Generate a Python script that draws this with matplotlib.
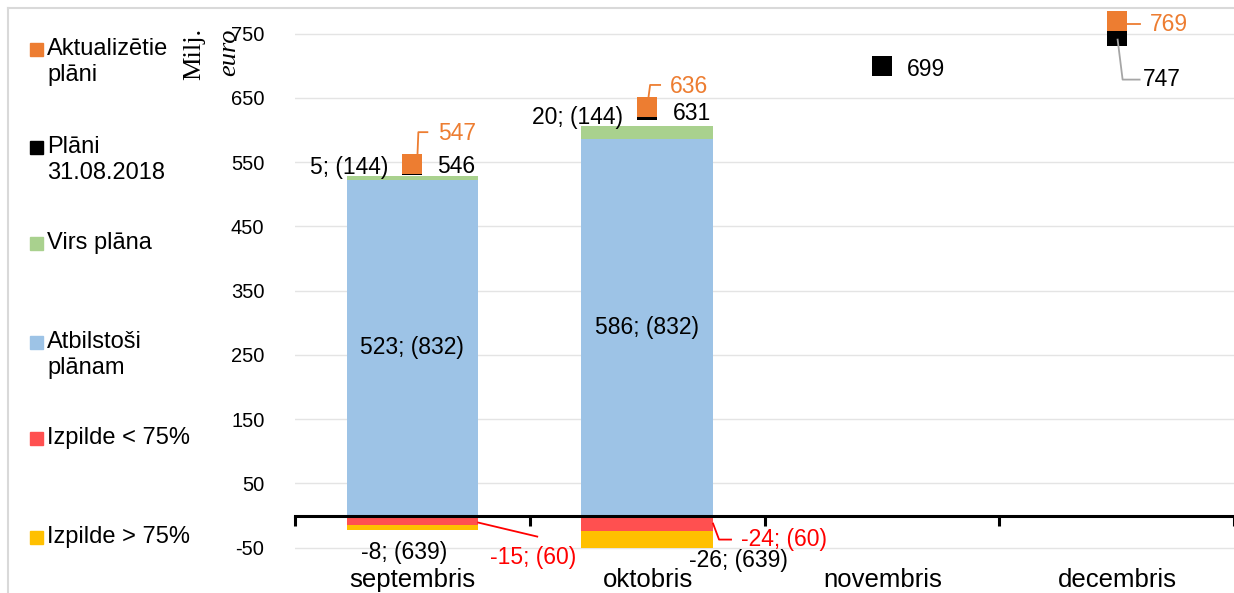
import numpy as np
import matplotlib
matplotlib.use('Agg')
import matplotlib.pyplot as plt
from matplotlib.patches import Rectangle

plt.rcParams['font.family'] = ['Liberation Sans', 'DejaVu Sans']
plt.rcParams['axes.unicode_minus'] = False

# dati
menesi = ['septembris', 'oktobris', 'novembris', 'decembris']
atbilstosi = [523, 586]
virs_plana = [5, 20]
izpilde_zem75 = [-15, -24]
izpilde_virs75 = [-8, -26]
lbl_virs = ['5; (144)', '20; (144)']
lbl_atb = ['523; (832)', '586; (832)']
lbl_zem75 = ['-15; (60)', '-24; (60)']
lbl_virs75 = ['-8; (639)', '-26; (639)']
plani_0831 = [546, 631, 699, 747]
aktualizetie = [547, 636, None, 769]

W, H = 1234, 593
fig = plt.figure(figsize=(W / 100, H / 100), dpi=100)
# axes: x 295..1234 px, y 8..567 px
ax = fig.add_axes([295 / W, (H - 567) / H, (W - 295) / W, (567 - 8) / H])
ax.set_xlim(-0.5, 3.5)
ax.set_ylim(-80, 790)

PX_X = 1 / 235.0      # data per pixel
PX_Y = 1 / 0.643

def p(x, y, dx, dy):
    # nobide pikseļos -> datu koordinātes
    return x + dx * PX_X, y + dy * PX_Y

orange = '#ED7D31'
green = '#A9D18E'
blue = '#9DC3E6'
red = '#FF5050'
yellow = '#FFC000'

x = np.arange(2)
bw = 0.56
ax.bar(x, atbilstosi, bw, color=blue, zorder=2)
ax.bar(x, virs_plana, bw, bottom=atbilstosi, color=green, zorder=2)
ax.bar(x, izpilde_zem75, bw, color=red, zorder=2)
ax.bar(x, izpilde_virs75, bw, bottom=izpilde_zem75, color=yellow, zorder=2)

# marķieri
xm = np.arange(4)
ax.scatter(xm, plani_0831, marker='s', s=200, color='black', zorder=4, linewidths=0)
xa = [i for i, v in enumerate(aktualizetie) if v is not None]
ya = [v for v in aktualizetie if v is not None]
ax.scatter(xa, ya, marker='s', s=200, color=orange, zorder=5, linewidths=0)

fs = 16.5
for i in range(2):
    top = atbilstosi[i] + virs_plana[i]
    ax.text(*p(i, top, -24, 9), lbl_virs[i], ha='right', va='center', fontsize=fs, zorder=6)
    ax.text(i, atbilstosi[i] / 2, lbl_atb[i], ha='center', va='center', fontsize=fs, zorder=6)

# plānu iezīmes
ax.text(*p(0, plani_0831[0], 25, -2), str(plani_0831[0]), ha='left', va='center', fontsize=fs)
ax.text(*p(1, plani_0831[1], 26, -3), str(plani_0831[1]), ha='left', va='center', fontsize=fs)
ax.text(*p(2, plani_0831[2], 25, -3), str(plani_0831[2]), ha='left', va='center', fontsize=fs)

ax.text(*p(0, aktualizetie[0], 26, 31), str(aktualizetie[0]), ha='left', va='center',
        fontsize=fs, color=orange)
pts = [p(0, aktualizetie[0], 5, 7), p(0, aktualizetie[0], 6, 32), p(0, aktualizetie[0], 15, 32)]
ax.plot(*zip(*pts), color=orange, lw=1.3, zorder=3)

ax.text(*p(1, aktualizetie[1], 23, 20), str(aktualizetie[1]), ha='left', va='center',
        fontsize=fs, color=orange)
pts = [p(1, aktualizetie[1], 1, 7), p(1, aktualizetie[1], 3, 22), p(1, aktualizetie[1], 13, 22)]
ax.plot(*zip(*pts), color=orange, lw=1.3, zorder=3)

ax.text(*p(3, aktualizetie[3], 33, -3), str(aktualizetie[3]), ha='left', va='center',
        fontsize=fs, color=orange)
pts = [p(3, aktualizetie[3], 10, -3), p(3, aktualizetie[3], 23, -3)]
ax.plot(*zip(*pts), color=orange, lw=1.3, zorder=3)

ax.text(*p(3, plani_0831[3], 26, -44), str(plani_0831[3]), ha='left', va='center', fontsize=fs)
pts = [p(3, plani_0831[3], 1, -4), p(3, plani_0831[3], 6, -44), p(3, plani_0831[3], 23, -44)]
ax.plot(*zip(*pts), color='#a6a6a6', lw=1.3, zorder=6)

# negatīvās vērtības
bot0 = izpilde_zem75[0] + izpilde_virs75[0]
ax.text(*p(0, bot0, -8, -22), lbl_virs75[0], ha='center', va='center', fontsize=fs)
ax.text(*p(0, izpilde_zem75[0], 78, -32), lbl_zem75[0], ha='left', va='center',
        fontsize=fs, color='red')
pts = [p(0, 0, 66, -7), p(0, 0, 125, -21)]
ax.plot(*zip(*pts), color='red', lw=1.3, zorder=3)

bot1 = izpilde_zem75[1] + izpilde_virs75[1]
ax.text(*p(1, bot1, 91, -13), lbl_virs75[1], ha='center', va='center', fontsize=fs)
ax.text(*p(1, 0, 94, -24), lbl_zem75[1], ha='left', va='center', fontsize=fs, color='red')
pts = [p(1, 0, 66, -8), p(1, 0, 72, -24), p(1, 0, 84, -24)]
ax.plot(*zip(*pts), color='red', lw=1.3, zorder=3)

# asis
ax.set_yticks(np.arange(-50, 751, 100))
ax.tick_params(axis='y', length=0, pad=22, labelsize=14.5)
ax.grid(axis='y', color='#e4e4e4', lw=1, zorder=0)
ax.set_axisbelow(True)
for s in ['left', 'right', 'top']:
    ax.spines[s].set_visible(False)
ax.spines['bottom'].set_position(('data', 0))
ax.spines['bottom'].set_linewidth(2.2)
ax.spines['bottom'].set_zorder(7)
ax.set_xticks(np.arange(-0.5, 3.6, 1))
ax.set_xticklabels([])
ax.tick_params(axis='x', length=7, width=2.2, direction='out')

for i, m in enumerate(menesi):
    fig.text((295 + 117.5 + 235 * i) / W, 1 - 580 / H, m, ha='center', va='center', fontsize=18.5)

# ass nosaukums
fig.text(194 / W, 1 - 28 / H, 'Milj.', rotation=90, ha='center', va='top',
         fontsize=19, family='Liberation Serif')
fig.text(229 / W, 1 - 28 / H, 'euro', rotation=90, ha='center', va='top',
         fontsize=19, family='Liberation Serif', style='italic')

# leģenda
leg = [(orange, ['Aktualizētie', 'plāni'], 49),
       ('black', ['Plāni', '31.08.2018'], 147),
       (green, ['Virs plāna'], 243),
       (blue, ['Atbilstoši', 'plānam'], 342),
       (red, ['Izpilde < 75%'], 438),
       (yellow, ['Izpilde > 75%'], 537)]
for col, lines, yc in leg:
    fig.patches.append(Rectangle((30 / W, 1 - (yc + 6.5) / H), 13 / W, 13 / H,
                                 transform=fig.transFigure, color=col))
    for k, t in enumerate(lines):
        fig.text(47 / W, 1 - (yc + 26 * k) / H, t, ha='left', va='center', fontsize=17)

# rāmis
fig.add_artist(plt.Line2D([8 / W, 8 / W], [0, 1 - 8 / H], color='#d9d9d9', lw=1.5,
                          transform=fig.transFigure))
fig.add_artist(plt.Line2D([8 / W, 1], [1 - 8 / H, 1 - 8 / H], color='#d9d9d9', lw=1.5,
                          transform=fig.transFigure))

fig.savefig('out.png', dpi=100)
